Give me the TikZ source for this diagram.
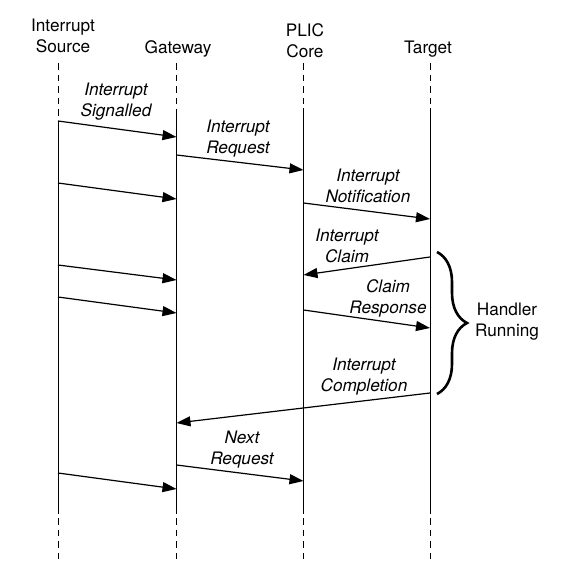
\documentclass[tikz,border=0pt]{standalone}
\usepackage{fontspec}
\setmainfont{TeX Gyre Heros}
\usetikzlibrary{arrows.meta,decorations.pathreplacing}

\begin{document}
\begin{tikzpicture}[
  x=0.5pt, y=-0.5pt,
  head/.style={align=center, inner sep=0pt, font=\fontsize{8.6}{10.5}\selectfont},
  lbl/.style={align=center, inner sep=0pt, font=\fontsize{8.6}{10.5}\selectfont\itshape},
  life/.style={line width=0.5pt},
  lifedash/.style={line width=0.5pt, dash pattern=on 3.3pt off 2.5pt},
  msg/.style={-{Triangle[length=7pt,width=5pt]}, line width=0.6pt},
  brc/.style={decorate, decoration={brace, amplitude=15pt}, line width=1.3pt}
]
  \useasboundingbox (0,0) rectangle (564,582);

  % headings
  \node[head] (srchead) at (63,36) {Interrupt\\Source};
  \node[head] (gwhead) at (178,49) {Gateway};
  \node[head] (corehead) at (305,41) {PLIC\\Core};
  \node[head] (tgthead) at (428,49) {Target};

  % lifelines
  \coordinate (srcT) at (58,63);    \coordinate (srcM) at (58,121);
  \coordinate (srcB) at (58,514);   \coordinate (srcE) at (58,559);
  \coordinate (gwT) at (176.5,63);  \coordinate (gwM) at (176.5,109);
  \coordinate (gwB) at (176.5,514); \coordinate (gwE) at (176.5,559);
  \coordinate (coreT) at (303.5,63);  \coordinate (coreM) at (303.5,108);
  \coordinate (coreB) at (303.5,514); \coordinate (coreE) at (303.5,559);
  \coordinate (tgtT) at (430,63);   \coordinate (tgtM) at (430,108);
  \coordinate (tgtB) at (430,514);  \coordinate (tgtE) at (430,559);

  \draw[lifedash] (srcT) -- (srcM);
  \draw[life] (srcM) -- (srcB);
  \draw[lifedash] ([yshift=-2pt]srcB) -- (srcE);
  \draw[lifedash] (gwT) -- (gwM);
  \draw[life] (gwM) -- (gwB);
  \draw[lifedash] ([yshift=-2pt]gwB) -- (gwE);
  \draw[lifedash] (coreT) -- (coreM);
  \draw[life] (coreM) -- (coreB);
  \draw[lifedash] ([yshift=-2pt]coreB) -- (coreE);
  \draw[lifedash] (tgtT) -- (tgtM);
  \draw[life] (tgtM) -- (tgtB);
  \draw[lifedash] ([yshift=-2pt]tgtB) -- (tgtE);

  % message points
  \coordinate (sig1) at (58,121);    \coordinate (gw1) at (176.5,137);
  \coordinate (req1) at (176.5,155); \coordinate (core1) at (303.5,170);
  \coordinate (sig2) at (58,183);    \coordinate (gw2) at (176.5,199);
  \coordinate (notif) at (303.5,203); \coordinate (tgt1) at (430,219);
  \coordinate (claim) at (430,257);  \coordinate (core2) at (303.5,275);
  \coordinate (sig3) at (58,265);    \coordinate (gw3) at (176.5,280);
  \coordinate (sig4) at (58,297);    \coordinate (gw4) at (176.5,313);
  \coordinate (resp) at (303.5,310); \coordinate (tgt2) at (430,328);
  \coordinate (compl) at (430,393);  \coordinate (gw5) at (176.5,423);
  \coordinate (req2) at (176.5,465); \coordinate (core3) at (303.5,481);
  \coordinate (sig5) at (58,473);    \coordinate (gw6) at (176.5,489);

  \draw[msg] (sig1) -- (gw1);
  \draw[msg] (req1) -- (core1);
  \draw[msg] (sig2) -- (gw2);
  \draw[msg] (notif) -- (tgt1);
  \draw[msg] (claim) -- (core2);
  \draw[msg] (sig3) -- (gw3);
  \draw[msg] (sig4) -- (gw4);
  \draw[msg] (resp) -- (tgt2);
  \draw[msg] (compl) -- (gw5);
  \draw[msg] (req2) -- (core3);
  \draw[msg] (sig5) -- (gw6);

  \node[lbl] (sigl) at (116,102) {Interrupt\\Signalled};
  \node[lbl] (reql) at (238,139) {Interrupt\\Request};
  \node[lbl] (notifl) at (368,186) {Interrupt\\Notification};
  \node[lbl] (claiml) at (347,246) {Interrupt\\Claim};
  \node[lbl] (respl) at (388,298) {Claim\\Response};
  \node[lbl] (compll) at (364,377) {Interrupt\\Completion};
  \node[lbl] (nextl) at (242,450) {Next\\Request};

  % handler running
  \coordinate (brtop) at (437,252);
  \coordinate (brbot) at (437,394);
  \draw[brc] (brtop) -- (brbot);
  \node[head] (handler) at (507,322) {Handler\\Running};
\end{tikzpicture}
\end{document}
